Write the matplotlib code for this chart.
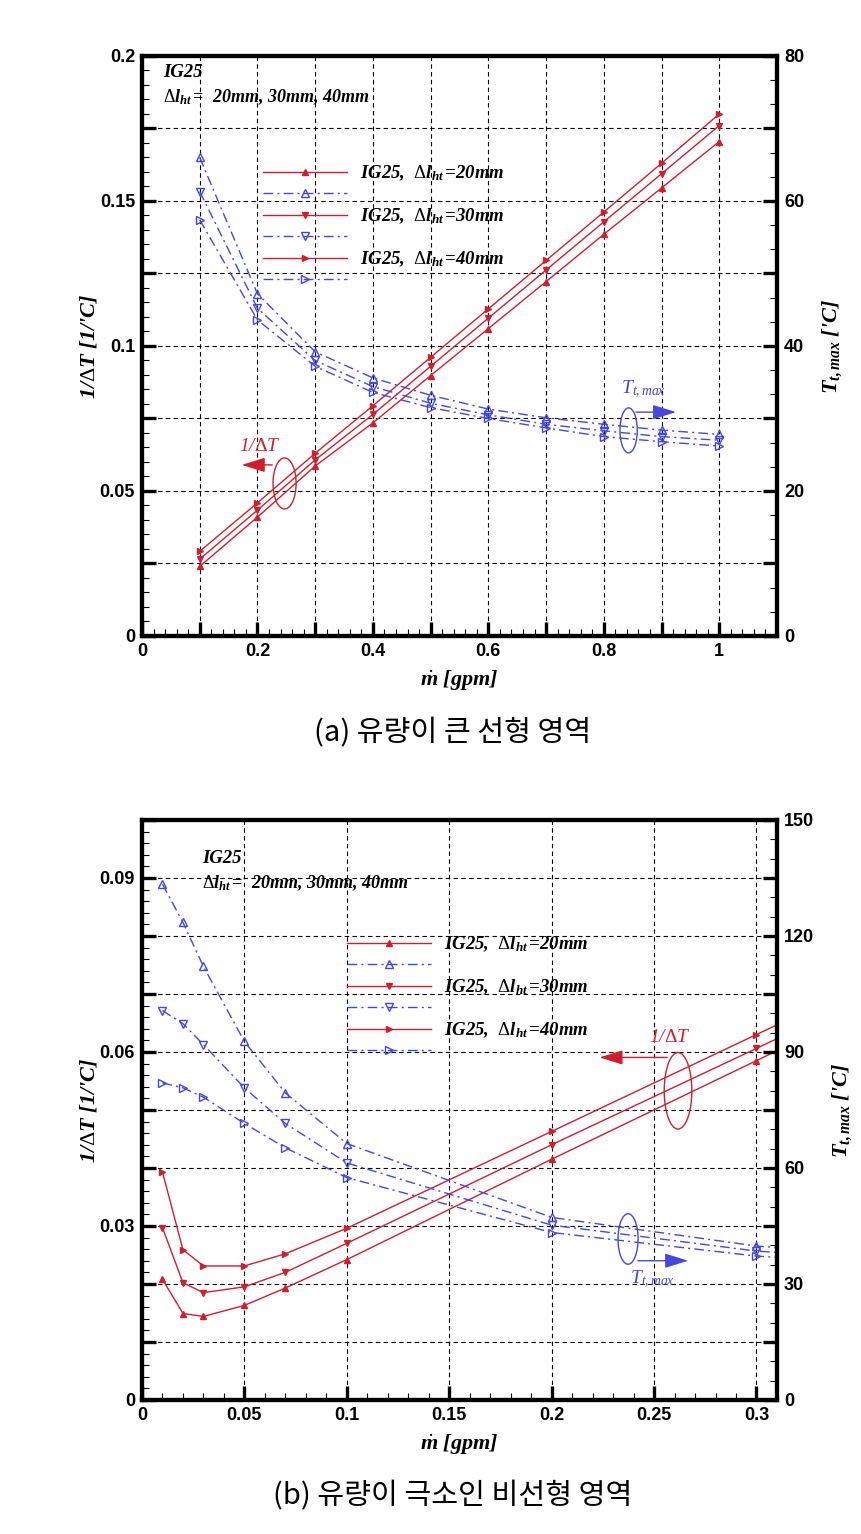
# === Importing required libraries ===
import numpy as np
import matplotlib
matplotlib.use("Agg")
import matplotlib.pyplot as plt
from matplotlib.patches import Ellipse

# === Fonts (Tecplot-like look: bold sans ticks, bold italic serif labels) ===
plt.rcParams['mathtext.fontset'] = 'custom'
plt.rcParams['mathtext.rm'] = 'Liberation Serif'
plt.rcParams['mathtext.it'] = 'Liberation Serif:italic'
plt.rcParams['mathtext.bf'] = 'Liberation Serif:bold'
plt.rcParams['mathtext.bfit'] = 'Liberation Serif:italic:bold'

# === Data: (a) large flow, linear region ===
flow_a = [0.1, 0.2, 0.3, 0.4, 0.5, 0.6, 0.7, 0.8, 0.9, 1.0]
inv_dt_a_20 = [0.0240, 0.0410, 0.0586, 0.0735, 0.0898, 0.1060, 0.1222, 0.1385, 0.1545, 0.1705]
inv_dt_a_30 = [0.0265, 0.0434, 0.0607, 0.0764, 0.0930, 0.1096, 0.1262, 0.1428, 0.1594, 0.1760]
inv_dt_a_40 = [0.0292, 0.0459, 0.0630, 0.0794, 0.0961, 0.1128, 0.1295, 0.1462, 0.1630, 0.1800]
tmax_a_20 = [66.0, 47.2, 39.2, 35.6, 33.2, 31.3, 30.1, 29.2, 28.4, 27.8]
tmax_a_30 = [61.3, 45.2, 38.0, 34.4, 32.1, 30.5, 29.2, 28.3, 27.5, 27.0]
tmax_a_40 = [57.4, 43.6, 37.2, 33.6, 31.5, 30.0, 28.7, 27.5, 26.8, 26.2]

# === Data: (b) very small flow, non-linear region ===
flow_b = [0.01, 0.02, 0.03, 0.05, 0.07, 0.1, 0.2, 0.3, 0.4]
inv_dt_b_20 = [0.0208, 0.0149, 0.0144, 0.0163, 0.0193, 0.0242, 0.0415, 0.0585, 0.0756]
inv_dt_b_30 = [0.0297, 0.0202, 0.0185, 0.0195, 0.0220, 0.0270, 0.0440, 0.0606, 0.0775]
inv_dt_b_40 = [0.0393, 0.0259, 0.0231, 0.0231, 0.0252, 0.0296, 0.0463, 0.0630, 0.0796]
tmax_b_20 = [133.4, 123.5, 112.1, 92.7, 79.4, 66.3, 47.2, 39.8, 35.8]
tmax_b_30 = [100.7, 97.3, 91.9, 80.7, 71.5, 61.3, 45.2, 38.5, 34.9]
tmax_b_40 = [82.0, 80.7, 78.3, 71.5, 65.2, 57.5, 43.3, 37.2, 33.9]

# === Axis ticks / labels ===
xtick_a = [0.0, 0.1, 0.2, 0.3, 0.4, 0.5, 0.6, 0.7, 0.8, 0.9, 1.0]
xlabel_a = ['0', '', '0.2', '', '0.4', '', '0.6', '', '0.8', '', '1']
ytick_a = [0.0, 0.025, 0.05, 0.075, 0.1, 0.125, 0.15, 0.175, 0.2]
ylabel_a = ['0', '', '0.05', '', '0.1', '', '0.15', '', '0.2']
rtick_a = [0, 10, 20, 30, 40, 50, 60, 70, 80]
rlabel_a = ['0', '', '20', '', '40', '', '60', '', '80']

xtick_b = [0.0, 0.05, 0.1, 0.15, 0.2, 0.25, 0.3]
xlabel_b = ['0', '0.05', '0.1', '0.15', '0.2', '0.25', '0.3']
ytick_b = [0.0, 0.01, 0.02, 0.03, 0.04, 0.05, 0.06, 0.07, 0.08, 0.09, 0.1]
ylabel_b = ['0', '', '', '0.03', '', '', '0.06', '', '', '0.09', '']
rtick_b = [0, 15, 30, 45, 60, 75, 90, 105, 120, 135, 150]
rlabel_b = ['0', '', '30', '', '60', '', '90', '', '120', '', '150']

gap_labels = ['20mm', '30mm', '40mm']
red_markers = ['^', 'v', '>']

RED = '#d01e2e'
BLUE = '#4646e0'
SERIF = 'Liberation Serif'
SANS = 'Liberation Sans'
dashdot = (0, (7, 3, 1.5, 3))


def style_axes(ax, ax2, xt, xl, yt, yl, rt, rl, xlim, ylim, rlim, xminor, yminor, rminor):
    ''' Tecplot-like frame, inward ticks, dashed grid '''
    ax.set_xlim(*xlim)
    ax.set_ylim(*ylim)
    ax2.set_ylim(*rlim)
    ax.set_xticks(xt, xl)
    ax.set_yticks(yt, yl)
    ax2.set_yticks(rt, rl)
    ax.set_xticks(np.arange(xlim[0], xlim[1] + 1e-9, xminor), minor=True)
    ax.set_yticks(np.arange(ylim[0], ylim[1] + 1e-9, yminor), minor=True)
    ax2.set_yticks(np.arange(rlim[0], rlim[1] + 1e-9, rminor), minor=True)
    ax.grid(which='major', color='black', linestyle=(0, (4, 3)), linewidth=0.8)
    ax.set_axisbelow(True)
    ax.tick_params(which='major', direction='in', length=10, width=2.4, right=False, top=False, pad=5)
    ax.tick_params(which='minor', direction='in', length=5, width=0.8, right=False, top=False)
    ax2.tick_params(which='major', direction='in', length=10, width=2.4, pad=5)
    ax2.tick_params(which='minor', direction='in', length=5, width=0.8)
    for a in (ax, ax2):
        for sp in a.spines.values():
            sp.set_linewidth(3)
        for lab in a.get_xticklabels() + a.get_yticklabels():
            lab.set_fontfamily(SANS)
            lab.set_fontweight('bold')
            lab.set_fontsize(13)
    ax.set_xlabel(r"$\dot{\mathbfit{m}}$ [gpm]", fontfamily=SERIF, fontweight='bold',
                  fontstyle='italic', fontsize=16, labelpad=6)
    ax.set_ylabel(r"1/$\Delta$T [1/'C]", fontfamily=SERIF, fontweight='bold',
                  fontstyle='italic', fontsize=16, labelpad=0)
    ax2.set_ylabel(r"T$_{\mathbfit{t,max}}$ ['C]", fontfamily=SERIF, fontweight='bold',
                   fontstyle='italic', fontsize=16, labelpad=12)


def draw_panel(ax, ax2, flow, inv_list, tmax_list, legend_xy, note_xy):
    handles = []
    labels = []
    for inv, tmax, mk, gap in zip(inv_list, tmax_list, red_markers, gap_labels):
        l1, = ax.plot(flow, inv, color=RED, linewidth=1.0, marker=mk, markersize=5,
                      markerfacecolor=RED, markeredgecolor=RED)
        l2, = ax2.plot(flow, tmax, color=BLUE, linewidth=1.0, linestyle=dashdot, marker=mk,
                       markersize=6, markerfacecolor='none', markeredgecolor=BLUE)
        handles += [l1, l2]
        labels += ["IG25,  $\\Delta$l$_{\\mathbfit{ht}}\\,$=" + gap, " "]
    ax2.legend(handles, labels, loc='upper left', bbox_to_anchor=legend_xy,
               frameon=False, numpoints=1, handlelength=4.5, handletextpad=0.65,
               labelspacing=0.17, borderpad=0, borderaxespad=0,
               prop={'family': SERIF, 'weight': 'bold', 'style': 'italic', 'size': 13.5})
    # note at top-left
    ax.text(note_xy[0], note_xy[1], "IG25", transform=ax.transAxes, fontfamily=SERIF,
            fontweight='bold', fontstyle='italic', fontsize=13.5, va='center')
    ax.text(note_xy[0], note_xy[1] - 0.043, r"$\Delta$l$_{\mathbfit{ht}}\,$=  20mm, 30mm, 40mm",
            transform=ax.transAxes, fontfamily=SERIF, fontweight='bold', fontstyle='italic',
            fontsize=13, va='center')


def mark_group(ax, center, size, tail, head, text_xy, text, color):
    ''' ellipse around a group of curves + arrow pointing to its axis '''
    ax.add_patch(Ellipse(center, size[0], size[1], fill=False, edgecolor=color, linewidth=1.0))
    ax.annotate('', xy=head, xytext=tail,
                arrowprops=dict(arrowstyle='-|>,head_length=0.9,head_width=0.28',
                                color=color, lw=1.0, mutation_scale=16))
    ax.text(text_xy[0], text_xy[1], text, color=color, fontfamily=SERIF, fontstyle='italic',
            fontsize=14, ha='center', va='center')


# === Figure ===
fig = plt.figure(figsize=(8.61, 15.34), dpi=100, facecolor='white')

# (a) panel
ax_a = fig.add_axes([0.1649, 0.5854, 0.7375, 0.3781])
ax_a2 = ax_a.twinx()
style_axes(ax_a, ax_a2, xtick_a, xlabel_a, ytick_a, ylabel_a, rtick_a, rlabel_a,
           (0, 1.1), (0, 0.2), (0, 80), 0.02, 0.005, 10 / 3)
draw_panel(ax_a, ax_a2, flow_a, [inv_dt_a_20, inv_dt_a_30, inv_dt_a_40],
           [tmax_a_20, tmax_a_30, tmax_a_40], (0.1906, 0.814), (0.033, 0.972))
mark_group(ax_a, (0.247, 0.0526), (0.04, 0.0176), (0.2305, 0.059), (0.168, 0.059),
           (0.2045, 0.0655), r"1/$\Delta$T", RED)
mark_group(ax_a, (0.843, 0.0709), (0.03, 0.0155), (0.851, 0.0772), (0.93, 0.0772),
           (0.868, 0.085), r"T$_{t,max}$", BLUE)

# (b) panel
ax_b = fig.add_axes([0.1649, 0.0874, 0.7375, 0.3781])
ax_b2 = ax_b.twinx()
style_axes(ax_b, ax_b2, xtick_b, xlabel_b, ytick_b, ylabel_b, rtick_b, rlabel_b,
           (0, 0.31), (0, 0.1), (0, 150), 0.01, 0.002, 5)
draw_panel(ax_b, ax_b2, flow_b, [inv_dt_b_20, inv_dt_b_30, inv_dt_b_40],
           [tmax_b_20, tmax_b_30, tmax_b_40], (0.3228, 0.802), (0.0945, 0.934))
mark_group(ax_b, (0.2617, 0.0533), (0.0135, 0.0132), (0.2578, 0.05905), (0.222, 0.05905),
           (0.2578, 0.0625), r"1/$\Delta$T", RED)
mark_group(ax_b, (0.2373, 0.02775), (0.0098, 0.0087), (0.2407, 0.0240), (0.268, 0.0240),
           (0.249, 0.0208), r"T$_{t,max}$", BLUE)

# === Captions ===
fig.text(0.526, 0.5222, "(a) 유량이 큰 선형 영역", ha='center', va='center',
         fontfamily=['Noto Sans CJK KR', 'DejaVu Sans'], fontsize=21)
fig.text(0.526, 0.0248, "(b) 유량이 극소인 비선형 영역", ha='center', va='center',
         fontfamily=['Noto Sans CJK KR', 'DejaVu Sans'], fontsize=21)

plt.savefig("out.png", dpi=100, facecolor='white')
